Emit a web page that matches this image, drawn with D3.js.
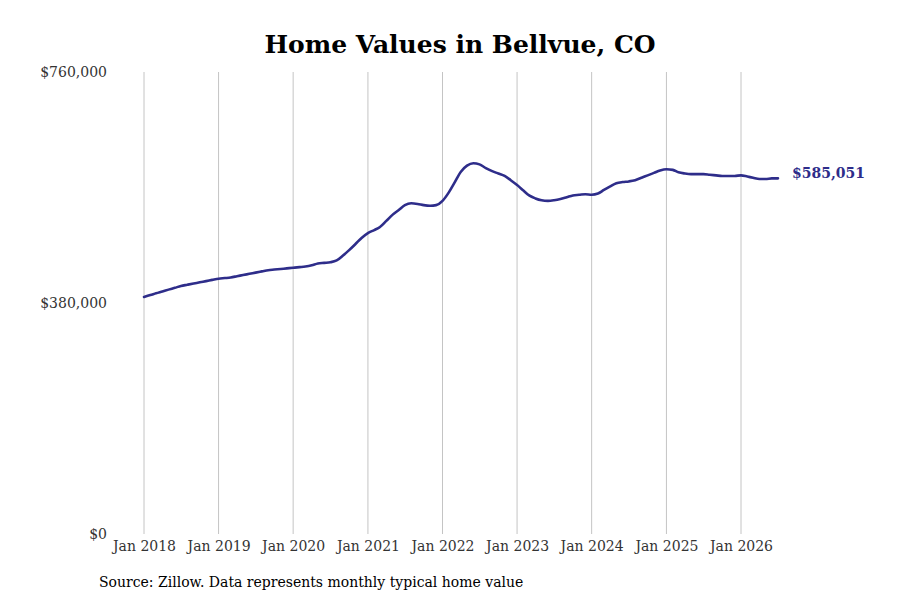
<!DOCTYPE html>
<html>
<head>
    <meta charset="utf-8">
    <title>Home Values in Bellvue, CO</title>
    <script src="https://cdn.jsdelivr.net/npm/d3@7"></script>
    <style>
        * {
            padding: 0;
            margin: 0;
            box-sizing: border-box;
        }

        body {
            width: 900px;
            height: 600px;
            overflow: hidden;
            background: #fff;
            font-family: "DejaVu Serif", serif;
        }
    </style>
</head>
<body>
<div id="chart"></div>
<script>
    // monthly typical home value, Jan 2018 .. Jul 2026
    const startMonth = '2018-01'
    const homeValues = [
        390000, 393000, 396000, 399000, 402000, 405000, 408000, 410000, 412000, 414000, 416000, 418000,
        420000, 421000, 422000, 424000, 426000, 428000, 430000, 432000, 434000, 435000, 436000, 437000,
        438000, 439000, 440000, 442000, 445000, 446000, 447000, 450000, 458000, 467000, 477000, 487000,
        495000, 500000, 505000, 515000, 525000, 533000, 541000, 544000, 543000, 541000, 540000, 541000,
        548000, 562000, 578000, 596000, 606000, 610000, 608000, 602000, 597000, 593000, 589000, 582000,
        574000, 565000, 557000, 552000, 549000, 548000, 549000, 551000, 554000, 557000, 558000, 559000,
        558000, 560000, 566000, 572000, 577000, 579000, 580000, 582000, 586000, 590000, 594000, 598000,
        600000, 599000, 595000, 593000, 592000, 592000, 592000, 591000, 590000, 589000, 589000, 589000,
        590000, 588000, 586000, 584000, 584000, 585000, 585051
    ]
    const yTicks = [0, 380000, 760000]
    const xTickYears = [2018, 2019, 2020, 2021, 2022, 2023, 2024, 2025, 2026]

    const width = 900
    const height = 600
    const lineColor = '#2e2d8a'
    const font = '"DejaVu Serif", serif'

    const parseMonth = d3.timeParse('%Y-%m')
    const t0 = parseMonth(startMonth)
    const data = homeValues.map((v, i) => ({ date: d3.timeMonth.offset(t0, i), value: v }))

    const svg = d3.select('#chart').append('svg')
        .attr('width', width)
        .attr('height', height)

    const x = d3.scaleTime()
        .domain([new Date(2018, 0, 1), new Date(2026, 0, 1)])
        .range([144, 741])

    const y = d3.scaleLinear()
        .domain([0, 760000])
        .range([534, 72])

    // title
    svg.append('text')
        .attr('x', 460)
        .attr('y', 53)
        .attr('text-anchor', 'middle')
        .attr('font-family', font)
        .attr('font-size', 25)
        .attr('font-weight', 'bold')
        .attr('fill', '#000')
        .text('Home Values in Bellvue, CO')

    // vertical grid
    svg.append('g')
        .selectAll('line')
        .data(xTickYears)
        .join('line')
        .attr('x1', d => x(new Date(d, 0, 1)))
        .attr('x2', d => x(new Date(d, 0, 1)))
        .attr('y1', y(760000))
        .attr('y2', y(0))
        .attr('stroke', '#c4c4c4')
        .attr('stroke-width', 1)

    // x labels
    const xAxis = d3.axisBottom(x)
        .tickValues(xTickYears.map(yr => new Date(yr, 0, 1)))
        .tickFormat(d3.timeFormat('Jan %Y'))
        .tickSize(0)
        .tickPadding(7)

    const gx = svg.append('g')
        .attr('transform', 'translate(0,534)')
        .call(xAxis)
    gx.select('.domain').remove()
    gx.selectAll('text')
        .attr('font-family', font)
        .attr('font-size', 14)
        .attr('fill', '#333')

    // y labels
    const yAxis = d3.axisLeft(y)
        .tickValues(yTicks)
        .tickFormat(d => '$' + d3.format(',')(d))
        .tickSize(0)
        .tickPadding(0)

    const gy = svg.append('g')
        .attr('transform', 'translate(107,0)')
        .call(yAxis)
    gy.select('.domain').remove()
    gy.selectAll('text')
        .attr('font-family', font)
        .attr('font-size', 14)
        .attr('fill', '#333')

    // line
    const line = d3.line()
        .x(d => x(d.date))
        .y(d => y(d.value))
        .curve(d3.curveMonotoneX)

    svg.append('path')
        .datum(data)
        .attr('d', line)
        .attr('fill', 'none')
        .attr('stroke', lineColor)
        .attr('stroke-width', 2.6)
        .attr('stroke-linejoin', 'round')
        .attr('stroke-linecap', 'round')

    // last value label
    const last = data[data.length - 1]
    svg.append('text')
        .attr('x', x(last.date) + 14)
        .attr('y', y(last.value) - 5)
        .attr('dy', '0.35em')
        .attr('font-family', font)
        .attr('font-size', 14)
        .attr('font-weight', 'bold')
        .attr('fill', lineColor)
        .text('$' + d3.format(',')(last.value))

    // source
    svg.append('text')
        .attr('x', 99)
        .attr('y', 587)
        .attr('font-family', font)
        .attr('font-size', 14)
        .attr('fill', '#000')
        .text('Source: Zillow. Data represents monthly typical home value')
</script>
</body>
</html>
